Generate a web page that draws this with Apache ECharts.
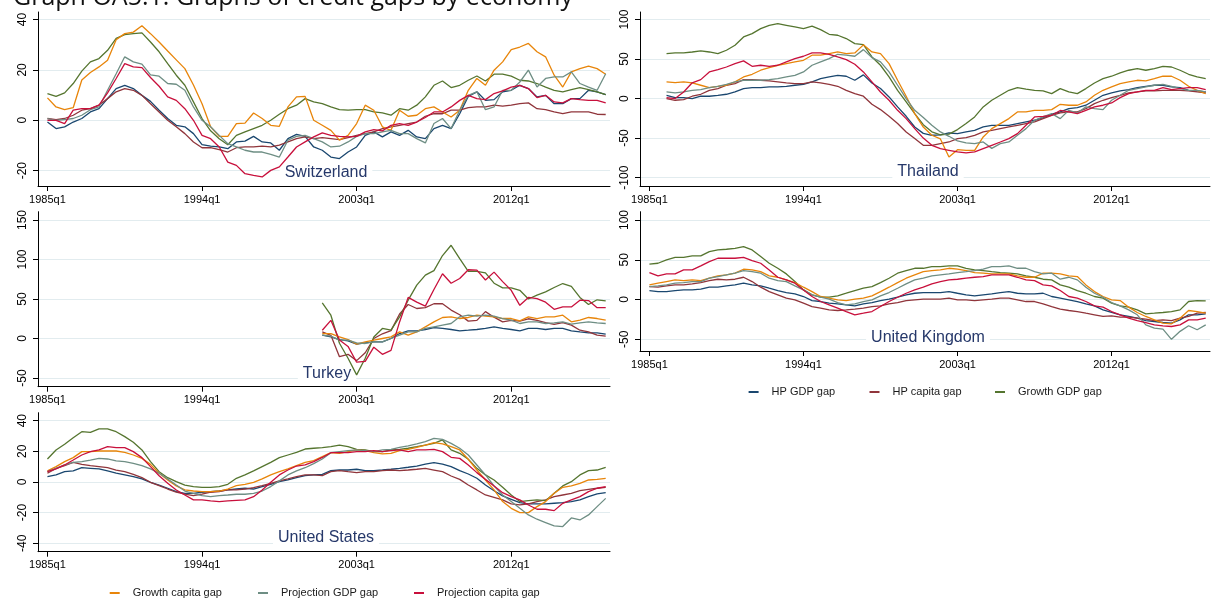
<!DOCTYPE html>
<html><head><meta charset="utf-8">
<script src="https://cdn.jsdelivr.net/npm/echarts@6/dist/echarts.min.js"></script>
<style>html,body{margin:0;padding:0;background:#fff}#c{width:1215px;height:608px}</style>
</head><body><div id="c"></div>
<script>
// ---------- labels ----------
const chartTitle = 'Graph OA5.1: Graphs of credit gaps by economy';
const seriesNames = ['HP GDP gap','HP capita gap','Growth GDP gap','Growth capita gap','Projection GDP gap','Projection capita gap'];
const xTickLabels = ['1985q1','1994q1','2003q1','2012q1'];
const yTicksCH = [-20,0,20,40];
const yTicksTH = [-100,-50,0,50,100];
const yTicksTR = [-50,0,50,100,150];
const yTicksUK = [-50,0,50,100];
const yTicksUS = [-40,-20,0,20,40];
// half-yearly sampled quarters
const quarters = ['1985q1','1985q3','1986q1','1986q3','1987q1','1987q3','1988q1','1988q3','1989q1','1989q3',
'1990q1','1990q3','1991q1','1991q3','1992q1','1992q3','1993q1','1993q3','1994q1','1994q3',
'1995q1','1995q3','1996q1','1996q3','1997q1','1997q3','1998q1','1998q3','1999q1','1999q3',
'2000q1','2000q3','2001q1','2001q3','2002q1','2002q3','2003q1','2003q3','2004q1','2004q3',
'2005q1','2005q3','2006q1','2006q3','2007q1','2007q3','2008q1','2008q3','2009q1','2009q3',
'2010q1','2010q3','2011q1','2011q3','2012q1','2012q3','2013q1','2013q3','2014q1','2014q3',
'2015q1','2015q3','2016q1','2016q3','2017q1','2017q3'];
const quartersTH = quarters.slice(2);
const quartersTR = quarters.slice(32);

// ---------- Switzerland ----------
const chHpGdp = [-0.7,-3.3,-2.6,-0.7,0.7,3.3,4.6,8.6,12.6,13.9,12.6,9.9,7.5,4,0.7,-2,-2.6,-5.3,-9.7,-10.3,-10.6,-11.3,-8.6,-8.3,-6.4,-8.6,-9,-11.9,-7.3,-5.6,-6.4,-10.6,-11.9,-14.6,-15.2,-12.6,-10.6,-6,-4.6,-6.6,-4.6,-6,-4,-6.6,-7.3,-3.3,-2,-3.3,2.6,9.5,11.3,7.9,8.2,11.3,11.9,13.9,12.6,9.3,9.9,6.6,6.6,8.6,8.6,11.9,11.3,10.2];
const chHpCap = [0.7,0.3,0.7,2,4,4.6,6,8.6,11.3,12.6,11.9,9.9,6.6,3.3,0,-2.6,-5.3,-8.6,-10.9,-10.9,-11.7,-12.6,-10.9,-10.6,-10.6,-10.3,-10.6,-9.9,-8.6,-7.3,-6.6,-7.3,-6.9,-7.3,-7.7,-6.9,-6,-5.3,-4.6,-3.3,-2.6,-2,-1.3,-0.7,1.6,2.6,2.6,4,4,5,5.3,5.3,6,5.6,6,6.6,6.9,4.6,4.2,3.3,2.6,3.3,3.3,3.3,2.4,2.3];
const chGrGdp = [10.6,9.5,10.9,14.6,19.5,23.2,24.5,27.8,32.5,34,34.4,34.7,31.1,27.2,22.5,17.9,13.9,7.3,0.7,-4.2,-7.3,-9.7,-6,-4.6,-3.3,-2,0,2.4,4.6,6,8.6,7.3,6.6,5.3,4.2,4,4.2,4.2,3.3,2.9,2,4.6,4,6,9.3,13.9,15.6,13,13.9,15.9,17.6,15.6,18.3,18.3,17.5,15.9,15.6,14.6,13.2,11.9,11.3,12.2,13,12.2,11.3,10.2];
const chGrCap = [8.9,5.3,4.2,5,16,19,21.2,23.8,32,34.4,35,37.5,34.4,31.1,27.5,24,20.5,14,6.6,-2.6,-6.4,-6.4,-1.3,-1.1,2.9,0.7,-2,-2.4,5.3,9.3,9.5,0,-2,-4,-7.9,-6,-1.3,6,4,-2.6,-4,4,1.6,2,4.6,5.3,3.3,1.3,4,11.9,16.6,13.9,19.9,23.2,28.1,29.1,30.5,27.2,25.2,17.9,13.2,19.2,20.5,21.5,20.5,18.3];
const chPrGdp = [0.7,0,0.3,0.7,2,4.2,5.3,11.9,18.5,25.2,23.2,22.3,18,17.5,14.6,14.3,11.9,5.3,0,-2.6,-6,-9.3,-10.6,-11.9,-12.6,-12.6,-13.5,-14.6,-7.9,-6.4,-6,-7.3,-8.6,-10.6,-10.3,-8.6,-6.4,-5.3,-5.3,-4.6,-4,-5.3,-5.3,-7.3,-9,-1.3,0.7,-3.3,4,9.9,11.3,4.2,5.3,11.9,11.9,15.2,19.9,13.2,16.6,17.2,17.2,19.2,14.6,13.2,11.9,18.5];
const chPrCap = [0,0,-1.3,4,4.6,4.6,6,10.9,16.6,22.5,21.2,20.9,17,13.5,9.3,7.9,4.6,0,-6,-7.3,-10.6,-16.6,-17.9,-21.2,-21.9,-22.5,-19.9,-18.5,-14.6,-10.6,-8.6,-6.6,-5,-6,-6.4,-6.6,-6.4,-4.6,-3.7,-4.2,-2,-1.3,-2,-0.7,1.1,3.3,3.3,5.3,7.9,9.9,8.6,8.2,10.6,11.7,13.2,13.9,12.6,9,9.9,7.3,6.9,8.6,8.2,7.9,7.9,6.9];

// ---------- Thailand (from 1986q1) ----------
const thHpGdp = [4.2,1.3,1.3,0,3,3,4.2,5.5,8.4,12.7,13.9,13.9,14.8,14.8,15.6,16.9,18.1,21.1,25.3,27.4,29.5,28.3,23.2,30,19.8,12.7,2.1,-10.5,-22.4,-35.9,-44,-46.4,-46,-43.5,-44.3,-42.2,-40.1,-35.9,-33.8,-33.8,-33.8,-31.6,-29.5,-27.4,-24,-19.8,-16.9,-12.7,-11.4,-8.4,-2.1,4.2,7.2,9.7,11.4,13.9,15.6,16.9,16.9,14.8,13.9,10.5,9.7,8.4];
const thHpCap = [0,-2.1,-1.3,3,5.5,10.5,12.7,16.9,19,24,24,23.2,22.4,21.1,19.8,19,19,21.1,19.8,18.1,15.6,10.5,6.3,3,-7.2,-13.9,-22.4,-31.6,-42.2,-50.6,-59,-59.1,-57,-54.9,-50.6,-49.4,-46.4,-42.2,-40.1,-38,-35.9,-33.8,-31.6,-29.5,-25.3,-21.1,-18.1,-16.9,-16.9,-12.7,-6.3,-2.1,1.3,4.2,7.2,8.4,9.7,9.7,10.5,10.5,10.5,9.7,8.4,7.2];
const thGrGdp = [57,57.8,57.8,59,60.3,59,57,61.2,67.5,78,82.3,88.6,92.8,94.9,92.8,90.7,88.6,91.6,87.3,81.4,80.2,76,69.6,68.4,52.7,42.2,27.4,10.5,-4.2,-19,-33,-42,-46,-45,-39.2,-31.6,-23.2,-10.5,-2.1,4.2,10.5,13.9,12,10.5,9.7,6.3,12.7,8.4,6.3,12.7,19.8,25.3,28.3,32.5,35.9,38,35.9,38,40.9,40,35.9,30.8,27.4,25.3];
const thGrCap = [21.1,20.3,21.1,19.8,16.9,13.9,15.6,16.9,21.1,27.4,30.8,35.9,39.2,42.2,44.3,46.4,48.5,54.9,54.9,57,59,57,57.8,68,59,57,44.3,23.2,3,-19,-36,-46.4,-51,-74,-64.6,-65.4,-65.4,-48.5,-38,-31.6,-25.3,-16.9,-16.9,-14.8,-14.8,-13.9,-7.2,-8.4,-8.4,-4.2,4.2,10.5,14.8,19,21.1,23.2,22.4,25.3,28.3,28.3,23.2,15.6,10.5,6.3];
const thPrGdp = [8.4,7.2,8.4,10.5,11.4,13.9,15.6,18.1,21.1,23.2,23.2,23.2,24,25.3,27.4,29.5,33.8,42.2,46.4,50.6,56.1,54.9,53.6,62,51.9,46.4,33.8,16.9,0,-14.8,-24,-33.8,-42.2,-47.7,-53.6,-56.1,-57,-54.9,-63,-57,-54.9,-46.4,-38,-27.4,-23.2,-19,-25.3,-14.8,-18.1,-10.5,-12.7,-13.9,-2.1,4.2,10.5,12.7,14.8,16.9,18.1,15.6,12.7,10.5,10.5,8.4];
const thPrCap = [1.3,0,8.4,20,24,33.8,36.7,40,44.3,47.7,40.9,42.2,40.9,42.2,46.4,50.6,53.6,57.8,57.8,56.1,52.7,49.4,43.5,33.8,21.1,8.4,-2.1,-14.8,-25.3,-38,-50,-59.1,-63.3,-65.4,-67.5,-68.8,-67.5,-63.3,-59.1,-54.9,-50.6,-44.3,-33.8,-23.2,-22.4,-21.1,-15,-16.9,-19,-14.8,-10.5,-8.4,-5.5,1.3,6.3,8.4,10.5,10.5,13.9,11.4,12.7,13.9,13.9,11.4];

// ---------- Turkey (from 2001q1) ----------
const trHpGdp = [4.2,2,-1.3,-3,-7.2,-5.5,-4.2,-4.2,0,6.3,9.7,9.7,11.4,13.9,12.7,11.4,9.7,10.5,11.4,12.7,14.8,12.7,11.4,9.7,12.7,12.7,11.4,12.7,12.7,9.7,8.4,7.2,7.2,5.5];
const trHpCap = [8.4,4,-23,-20,-28,-18,0,6,10,31,43,38,39,44,44,36,30,22,23,34,27,21,23,22,25,23,20,18,20,17,10.5,8.4,4.2,3];
const trGrGdp = [45,29.5,-6,-25,-46,-25,2,12.7,10.5,27.4,48.5,67.5,80.2,86,105,118,101,85,85,83,70,64,64,61,50,55,59,64.6,69.6,66,52,43,49,47.7];
const trGrCap = [6.3,6.3,2,-1.3,-7.2,-4.2,-2,0,2,8.4,4.2,8.4,14.8,21.1,26.6,27.4,25.3,26.6,29.5,28.3,27.4,25.3,25.3,22.4,27.4,25.3,27.4,27.4,29.5,21.1,23.2,26.6,25.3,23.2];
const trPrGdp = [4.2,3,-2,-2,-5.5,-6.3,-4.2,-4.2,0,4.2,8.4,8.4,12.7,14.8,16.9,19,27.4,29.5,28.3,29.5,28.3,25.3,23.2,19,21.1,21.1,19,19.8,21.1,18.1,19.8,21.1,19.8,19];
const trPrCap = [10.5,23,-2,-10,-30,-29,-11,-20,-15,21,52,46,41,62,82,70,76,87,86.5,74,84,72,61,42,52,50.6,46,37,40,40,48.5,48,39,39];

// ---------- United Kingdom ----------
const ukHpGdp = [11.3,10,10,11.3,12.1,12.1,13,15.5,15.5,17.2,18.4,20.5,18.4,17.2,14.2,11.3,8.8,7.1,3.8,-1.3,-2.5,-4.6,-5.4,-6.7,-7.9,-5.4,-3.8,-1.3,0.4,2.9,5.9,7.9,8.8,8.8,8.8,10,7.9,5.9,4.6,5.9,7.1,8.8,10,7.9,7.1,7.1,7.9,3.8,1.7,-0.4,-2.5,-5.4,-7.9,-13,-16.3,-19.2,-21.3,-23.4,-26.4,-27.6,-28.9,-29.7,-25.5,-19.2,-19.2,-18];
const ukHpCap = [16.3,15.5,17.2,18.4,18.4,19.7,21.3,23.8,25.5,24.7,25.5,28,22.6,15.5,10,5.9,1.7,-0.4,-4.6,-8.8,-10.9,-13,-13.8,-13,-12.1,-10.9,-8.8,-7.9,-5.4,-3.8,-1.3,-0.4,0.4,0.4,0.4,1.7,-0.4,-0.4,-1.3,-0.4,0.4,1.7,1.7,-0.4,-2.5,-2.5,-5.4,-8.8,-12.1,-13.8,-15.1,-17.2,-19.2,-21.3,-20.5,-22.2,-22.2,-23.4,-24.7,-26.4,-25.5,-26.4,-23.4,-21.3,-17.2,-16.3];
const ukGrGdp = [44.4,45.6,49.8,53.1,53.1,54.8,54.8,60.3,62.3,63.2,64.4,66.5,62.3,54,45.6,39.3,32.2,22.6,12.1,5.9,2.9,2.9,4.6,7.9,11.3,14.2,16.3,21.3,26.8,33.1,36.4,39.3,39.3,41.4,41.4,42.3,42.3,39.3,37.2,36.4,35.1,33.9,33.1,32.2,29.7,28,25.5,24.7,18.4,15.5,11.3,7.9,3.8,1.7,-4.6,-7.9,-9.6,-13,-18,-17.2,-16.3,-15.1,-13,-2.5,-1.3,-1.7];
const ukGrCap = [18.4,20.5,22.6,24.7,23.8,24.7,23.8,26.8,29.7,31,33.1,38.1,37.2,35.1,29.7,28,24.7,21.3,15.5,10,3.8,1.7,-0.4,-1.3,0.4,1.7,4.6,10,15.5,21.3,26.8,31,35.1,36.4,37.2,39.3,38.1,36.4,33.9,33.1,32.2,32.2,32.2,29.7,28,28,33.1,33.1,32.2,29.7,28.9,18.4,10,3.8,-0.4,-1.3,-9.6,-16.3,-21.3,-25.5,-29.7,-30.5,-23.4,-13.8,-15.1,-17.2];
const ukPrGdp = [16.3,17.2,18.4,20.5,21.3,22.6,22.6,26.8,28.9,31,33.1,36.4,35.1,33.1,26.8,23.8,22.6,17.2,12.1,5.9,2.9,0.4,-3.8,-6.7,-5.4,-2.5,-0.4,4.6,8.8,14.2,19.7,24.7,26.8,29.7,31,32.2,33.9,35.1,36.4,38.1,41.4,41.4,42.3,39.3,39.3,35.1,32.2,33.1,25.5,28,24.7,15.5,7.9,2.9,-3.8,-7.9,-13,-19.2,-31.8,-36,-37.2,-50,-40,-33,-38,-31.8];
const ukPrCap = [33.9,29.7,32.2,32.2,37.2,37.2,42.3,47.7,51.9,51.9,51.9,53.1,49,45.6,37.2,28,24.7,20.5,12.1,3.8,-2.5,-6.7,-10.9,-15.1,-19.2,-17.2,-15.1,-8.8,-2.5,2.9,7.9,12.1,15.5,19.7,22.6,24.7,25.5,26.8,28,28.9,31,31,31,28,24.7,23.8,18.4,17.2,11.3,3.8,1.7,-2.5,-7.9,-9.6,-15.1,-19.2,-23.4,-26.4,-28.9,-31.8,-33.1,-33.9,-31.8,-25.5,-25.5,-23.4];

// ---------- United States ----------
const usHpGdp = [3.5,4.6,6.7,7.2,9.3,8.9,8.5,7.2,5.7,4.6,3.5,2,-0.2,-2,-4.1,-6.3,-7.4,-7.4,-6.7,-6.3,-5.9,-5.2,-4.6,-4.1,-4.6,-3,-1.5,0.2,1.3,2.8,4.1,4.6,5,7.4,7.8,7.8,8.3,7.4,7.4,7.8,8.3,8.9,9.6,10.4,11.7,12.6,11.7,10,7.4,5.2,2.4,-2,-5.7,-9.1,-11.3,-13.5,-14.3,-14.3,-14.3,-13.9,-13.5,-12.8,-11.7,-9.6,-7.8,-7];
const usHpCap = [5.7,8.9,10.7,12.8,11.5,10.7,10,9.3,7.8,6.7,5,2.8,-0.2,-2.4,-4.6,-6.7,-8,-8.9,-8,-6.7,-6.3,-5.2,-5.2,-4.6,-3.7,-2.4,-0.9,0.7,2,3.5,4.6,4.6,4.1,6.7,7.4,6.7,6.1,6.7,6.7,7.4,7.8,7.4,7.8,8.3,8.9,7.8,6.7,3.9,1.7,-2,-5.2,-8.5,-10,-11.7,-14.3,-15,-14.3,-12.8,-11.7,-9.6,-8.5,-7.4,-5.7,-4.8,-4.1,-3.5];
const usGrGdp = [15,20.9,24.6,28.9,32.8,32.4,34.6,34.6,32.8,29.6,25.9,20.9,13.3,6.7,2.8,0.2,-2,-3,-3.5,-3.5,-3,-1.5,2.4,4.6,7.2,10,12.8,15.9,17.6,19.3,21.5,22,22.4,23,24.1,23,21.3,20.9,19.8,19.8,20.9,21.3,22,23,24.1,25.2,27.4,20.9,18.7,14.8,8.9,4.6,1.3,-3.5,-8.5,-12.8,-12.2,-11.7,-12.2,-7.4,-2.6,0.2,4.6,7.4,7.8,9.6];
const usGrCap = [7.2,10,13.3,15.9,19.8,19.8,20.2,20.2,20.2,19.3,17.6,15.4,11.5,5.7,1.3,-2.6,-5.2,-5.9,-6.3,-6.3,-5.9,-4.6,-2.4,-1.5,-0.2,2,4.6,6.7,8.5,10.7,12.8,14,16.5,19.1,18.7,19.8,20.9,20.4,19.1,18.3,18.7,20.4,21.3,22.6,24.1,25.7,24.8,23,20.9,14.8,7.8,1.3,-5.2,-12.8,-17.2,-20,-20,-16.1,-12.8,-7.4,-3.5,-2.6,-0.9,1.3,1.7,2.4];
const usPrGdp = [6.7,8.9,11.1,12.8,13.3,14.3,15.4,15,13.7,13.3,12.2,10.7,8.5,5.7,2,-2,-5.9,-7.4,-8.9,-9.6,-8.9,-8.5,-8,-8,-7.4,-5.9,-3,0.7,4.6,7.2,9.3,12,15,19.1,19.8,20.4,20.9,20.4,19.8,20.9,21.3,22.6,23.5,24.8,26.3,28.5,27.8,25.2,22,17.6,11.1,4.6,-2.6,-8.5,-12.8,-17.2,-21.5,-24.3,-26.5,-28.7,-29.1,-23.5,-24.8,-21.5,-16.1,-10.7];
const usPrCap = [6.7,8.5,11.1,14.3,17.6,19.8,20.9,23,22.4,22.4,19.8,15.9,10,4.1,-0.9,-5.2,-8.5,-11.7,-11.7,-12.4,-12.8,-12.4,-12,-11.7,-9.6,-5.2,-0.2,4.6,7.8,10.4,11.1,13.3,16,19.1,19.1,19.1,19.8,19.8,20.4,19.8,20.4,20.9,19.8,20.9,20.9,21.3,19.8,16.1,15.4,11.1,6.1,1.7,-2.6,-7,-9.6,-11.7,-15,-17.8,-17.8,-18.7,-13.9,-11.7,-9.6,-6.3,-4.1,-3];

// ---------- styling / layout ----------
const seriesColors = ['#1a476f','#90353b','#55752f','#e8850a','#6e8e84','#c8103c'];
const FONT = '"Liberation Sans", Arial, sans-serif';
function qIndex(label){ return (parseInt(label.slice(0,4),10)-1985)*4 + (parseInt(label.slice(5),10)-1); }

const panels = [
  {name:'Switzerland', dates:quarters, data:[chHpGdp,chHpCap,chGrGdp,chGrCap,chPrGdp,chPrCap], yTicks:yTicksCH, yMin:-26.1, yMax:43.0, box:[38,12,572,174], lab:[326,172.5]},
  {name:'Thailand', dates:quartersTH, data:[thHpGdp,thHpCap,thGrGdp,thGrCap,thPrGdp,thPrCap], yTicks:yTicksTH, yMin:-110.6, yMax:109.6, box:[640,12,570,174], lab:[928,172]},
  {name:'Turkey', dates:quartersTR, data:[trHpGdp,trHpCap,trGrGdp,trGrCap,trPrGdp,trPrCap], yTicks:yTicksTR, yMin:-61, yMax:160.5, box:[38,211.7,572,175], lab:[327,374]},
  {name:'United Kingdom', dates:quarters, data:[ukHpGdp,ukHpCap,ukGrGdp,ukGrCap,ukPrGdp,ukPrCap], yTicks:yTicksUK, yMin:-64.7, yMax:110.4, box:[640,211.7,570,139.3], lab:[928,337.3]},
  {name:'United States', dates:quarters, data:[usHpGdp,usHpCap,usGrGdp,usGrCap,usPrGdp,usPrCap], yTicks:yTicksUS, yMin:-45.5, yMax:45.2, box:[38,412.7,572,139], lab:[326,537.7]}
];

const xTickVals = xTickLabels.map(qIndex);
const grid = [], xAxis = [], yAxis = [], series = [], graphic = [];
panels.forEach((p, i) => {
  grid.push({left:p.box[0], top:p.box[1], width:p.box[2], height:p.box[3], containLabel:false, outerBoundsMode:'none'});
  xAxis.push({
    type:'value', gridIndex:i, min:-2.2, max:131,
    axisLine:{show:true, onZero:false, lineStyle:{color:'#000', width:1}},
    axisTick:{show:true, length:5, customValues:xTickVals, lineStyle:{color:'#000'}},
    axisLabel:{show:true, customValues:xTickVals, margin:8, fontSize:11, fontFamily:FONT, color:'#000',
      formatter: v => xTickLabels[xTickVals.indexOf(v)] || ''},
    splitLine:{show:false}
  });
  yAxis.push({
    type:'value', gridIndex:i, min:p.yMin, max:p.yMax,
    axisLine:{show:true, onZero:false, lineStyle:{color:'#000', width:1}},
    axisTick:{show:true, length:5, customValues:p.yTicks, lineStyle:{color:'#000'}},
    axisLabel:{show:true, customValues:p.yTicks, rotate:90, margin:9, fontSize:12, fontFamily:FONT, color:'#000'},
    splitLine:{show:true, lineStyle:{color:'#e2ecef', width:1.2}}
  });
  p.data.forEach((arr, k) => {
    series.push({
      type:'line', name:seriesNames[k], xAxisIndex:i, yAxisIndex:i, z:3,
      data: p.dates.map((d, j) => [qIndex(d), arr[j]]),
      showSymbol:false, symbol:'none', smooth:false,
      lineStyle:{color:seriesColors[k], width:1.3}, itemStyle:{color:seriesColors[k]},
      emphasis:{disabled:true}, silent:true, animation:false
    });
  });
  // panel caption: white box hides the gridline but sits under the data lines
  graphic.push({type:'text', x:p.lab[0], y:p.lab[1], silent:true, z:1,
    style:{text:p.name, fill:'#26386a', font:'16px ' + FONT, textAlign:'center', textVerticalAlign:'middle',
      backgroundColor:'#fff', padding:[0,5]}});
});
graphic.push({type:'text', x:13, y:-2, silent:true, z:1,
  style:{text:chartTitle, fill:'#111', font:'25px "Open Sans", sans-serif', textAlign:'left', textVerticalAlign:'middle'}});

function legendAt(name, left, top){
  return {data:[name], left:left, top:top, orient:'horizontal', padding:0, itemWidth:10, itemHeight:2,
    icon:'rect', selectedMode:false,
    formatter: n => '{t|' + n + '}',
    textStyle:{rich:{t:{fontSize:11, fontFamily:FONT, color:'#1a1a1a', padding:[0,0,0,8]}}}};
}
const legend = [
  legendAt(seriesNames[0], 748.6, 386.5),
  legendAt(seriesNames[1], 869.5, 386.5),
  legendAt(seriesNames[2], 995, 386.5),
  legendAt(seriesNames[3], 109.7, 587.5),
  legendAt(seriesNames[4], 258, 587.5),
  legendAt(seriesNames[5], 414, 587.5)
];

const chart = echarts.init(document.getElementById('c'), null, {renderer:'canvas', width:1215, height:608});
chart.setOption({animation:false, backgroundColor:'#fff', grid, xAxis, yAxis, series, legend, graphic});
</script></body></html>
